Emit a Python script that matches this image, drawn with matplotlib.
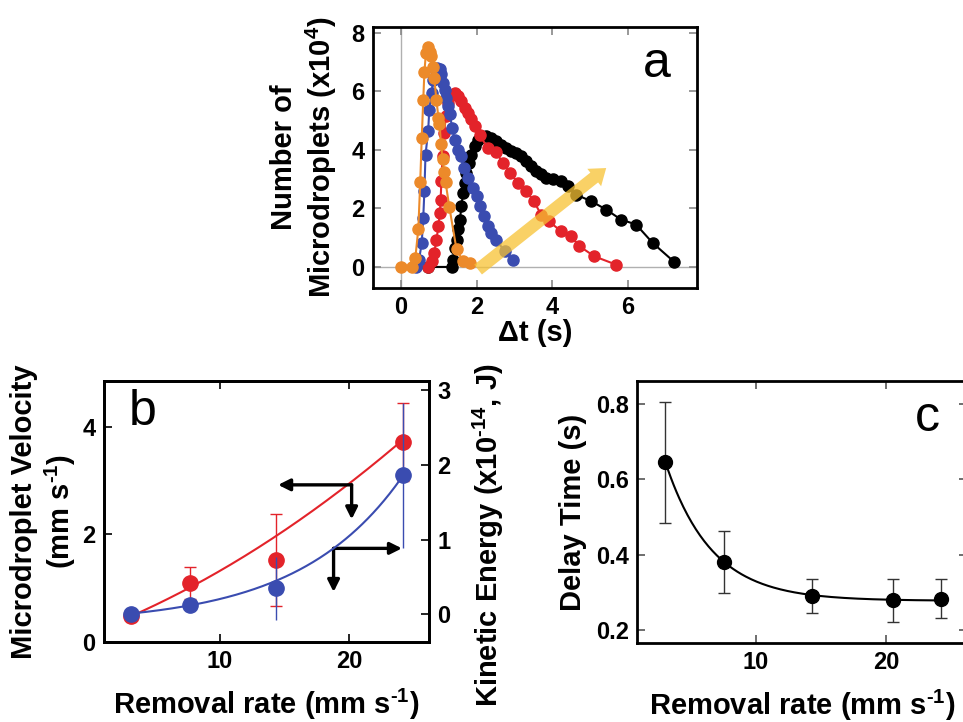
import numpy as np
import matplotlib
matplotlib.use("Agg")
import matplotlib.pyplot as plt

plt.rcParams['font.family'] = ['Liberation Sans', 'DejaVu Sans']
plt.rcParams['font.weight'] = 'bold'
plt.rcParams['mathtext.default'] = 'regular'

# ---------------- Panel a data ----------------
orange_t = [0, 0.28, 0.38, 0.46, 0.51, 0.55, 0.59, 0.62, 0.66, 0.72, 0.77, 0.80, 0.84, 0.88,
            0.94, 0.99, 1.02, 1.06, 1.10, 1.14, 1.18, 1.28, 1.47, 1.64, 1.82]
orange_n = [0, 0, 0.3, 1.3, 2.9, 4.4, 5.7, 6.65, 7.3, 7.5, 7.35, 7.2, 6.85, 6.45,
            5.7, 5.1, 4.9, 4.2, 3.7, 3.25, 2.9, 2.05, 0.6, 0.2, 0.15]
blue_t = [0.41, 0.48, 0.55, 0.59, 0.62, 0.65, 0.72, 0.75, 0.81, 0.85, 0.90, 0.96, 1.03, 1.07,
          1.12, 1.16, 1.20, 1.25, 1.29, 1.36, 1.42, 1.51, 1.58, 1.66, 1.78, 1.91, 2.00, 2.08,
          2.19, 2.30, 2.39, 2.52, 2.74, 2.96]
blue_n = [0, 0.25, 0.82, 1.68, 2.59, 3.84, 4.64, 5.38, 5.95, 6.4, 6.75, 6.8, 6.75, 6.58,
          6.29, 6.06, 5.78, 5.49, 5.21, 4.75, 4.35, 4.01, 3.78, 3.38, 3.04, 2.7, 2.42, 2.07,
          1.73, 1.39, 1.16, 0.93, 0.54, 0.25]
red_t = [0.72, 0.81, 0.88, 0.94, 0.99, 1.03, 1.05, 1.07, 1.10, 1.14, 1.19, 1.25, 1.34, 1.42,
         1.51, 1.60, 1.69, 1.78, 1.86, 1.95, 2.08, 2.29, 2.51, 2.70, 2.89, 3.10, 3.32, 3.51,
         3.71, 3.91, 4.24, 4.50, 4.72, 5.12, 5.69]
red_n = [0, 0.19, 0.48, 0.93, 1.39, 1.85, 2.3, 2.93, 3.78, 4.58, 5.15, 5.6, 5.89, 5.95,
         5.83, 5.66, 5.44, 5.26, 5.04, 4.81, 4.52, 4.07, 3.92, 3.56, 3.21, 2.87, 2.59, 2.25,
         1.79, 1.56, 1.22, 1.05, 0.71, 0.36, 0.08]
black_t = [0.72, 1.34, 1.38, 1.42, 1.47, 1.51, 1.56, 1.60, 1.64, 1.69, 1.73, 1.80, 1.86, 1.95,
           2.04, 2.13, 2.26, 2.39, 2.52, 2.66, 2.79, 2.92, 3.05, 3.18, 3.32, 3.45, 3.58, 3.71,
           3.84, 4.02, 4.24, 4.42, 4.63, 5.03, 5.43, 5.82, 6.22, 6.66, 7.23]
black_n = [0, 0, 0.25, 0.65, 0.93, 1.28, 1.62, 2.07, 2.53, 2.87, 3.21, 3.56, 3.84, 4.13,
           4.35, 4.47, 4.47, 4.41, 4.3, 4.18, 4.07, 3.95, 3.9, 3.78, 3.61, 3.44, 3.27, 3.16,
           3.04, 2.99, 2.93, 2.76, 2.47, 2.25, 1.96, 1.62, 1.45, 0.82, 0.17]
yellow_arrow = [(2.04, -0.09), (5.43, 3.38)]

# ---------------- Panel b data ----------------
rate_b = [3.1, 7.7, 14.3, 24.2]
velocity = [0.48, 1.1, 1.52, 3.72]
velocity_err = [0.03, 0.3, 0.85, 0.72]
energy = [0.01, 0.12, 0.35, 1.86]
energy_err = [0.02, 0.05, 0.42, 0.97]
vel_fit_coef = [0.00234, 0.0917, 0.173]        # quadratic fit
energy_fit = (0.0967, 0.125, -0.132)           # A*exp(k x) + c
arrow_left = [(20.2, 2.92), (14.5, 2.92), (20.2, 2.28)]   # corner, left end, down end
arrow_right = [(18.8, 1.74), (24.1, 1.74), (18.8, 0.93)]  # corner, right end, down end

# ---------------- Panel c data ----------------
rate_c = [3.08, 7.6, 14.3, 20.5, 24.2]
delay = [0.645, 0.38, 0.29, 0.28, 0.284]
delay_err = [0.16, 0.082, 0.045, 0.057, 0.052]
delay_fit = (0.278, 0.367, 0.283)               # c + A*exp(-k (x - x0))

ORANGE = '#ec8a2a'
BLUE = '#3a4cb0'
RED = '#e3232a'
TICK_FS = 17
LABEL_FS = 21
HY = '\u2010'  # hyphen for superscripts

fig = plt.figure(figsize=(9.63, 7.22), dpi=100)

def style(ax, tickcolor='k'):
    for s in ax.spines.values():
        s.set_linewidth(2.0)
    ax.tick_params(direction='in', length=6, width=1.2, color=tickcolor,
                   labelsize=TICK_FS, top=True, right=True, pad=6)
    for lab in ax.get_xticklabels() + ax.get_yticklabels():
        lab.set_fontweight('bold')

# ---------------- Panel a ----------------
axa = fig.add_axes([0.3873, 0.6011, 0.3364, 0.3615])
axa.axhline(0, color='#b0b0b0', lw=1.0, zorder=0)
axa.axvline(0, color='#b0b0b0', lw=1.0, zorder=0)
for t, n, c in [(black_t, black_n, 'k'), (red_t, red_n, RED),
                (blue_t, blue_n, BLUE), (orange_t, orange_n, ORANGE)]:
    axa.plot(t, n, '-o', color=c, ms=8, lw=1.5, mec=c)
(x0, y0), (x1, y1) = yellow_arrow
axa.annotate('', xy=(x1, y1), xytext=(x0, y0),
             arrowprops=dict(arrowstyle='simple,head_width=1.6,head_length=1.1,tail_width=0.9',
                             color='#f7c233', alpha=0.75, lw=0, shrinkA=0, shrinkB=0),
             zorder=5)
axa.set_xlim(-0.74, 7.83)
axa.set_ylim(-0.72, 8.2)
axa.set_xticks([0, 2, 4, 6])
axa.set_yticks([0, 2, 4, 6, 8])
style(axa, tickcolor='#888888')
axa.set_xlabel('Δt (s)', fontsize=LABEL_FS, fontweight='bold', labelpad=0)
axa.set_ylabel('Number of\nMicrodroplets (x10$^{4}$)', fontsize=LABEL_FS, fontweight='bold',
               labelpad=9, linespacing=1.2)
axa.text(0.92, 0.86, 'a', transform=axa.transAxes, fontsize=36, fontweight='normal',
         ha='right', va='center')

# ---------------- Panel b ----------------
axb = fig.add_axes([0.108, 0.1108, 0.3375, 0.3615])
xs = np.linspace(rate_b[0], rate_b[-1], 200)
axb.plot(xs, np.polyval(vel_fit_coef, xs), color=RED, lw=1.5)
axb.errorbar(rate_b, velocity, yerr=velocity_err, fmt='o', color=RED, ms=11,
             elinewidth=1.0, capsize=4, capthick=1.0)
axb.set_xlim(1.0, 26.2)
axb.set_ylim(0, 4.85)
axb.set_xticks([10, 20])
axb.set_yticks([0, 2, 4])
style(axb)
axb.tick_params(right=False)
for corner, end_h, end_v in [arrow_left, arrow_right]:
    for end in (end_h, end_v):
        axb.annotate('', xy=end, xytext=corner,
                     arrowprops=dict(arrowstyle='-|>,head_width=0.35,head_length=0.7',
                                     color='k', lw=2.4, shrinkA=0, shrinkB=0))
axb.set_xlabel('Removal rate (mm s$^{' + HY + '1}$)', fontsize=LABEL_FS, fontweight='bold',
               labelpad=10)
axb.set_ylabel('Microdroplet Velocity\n(mm s$^{' + HY + '1}$)', fontsize=LABEL_FS,
               fontweight='bold', labelpad=3, linespacing=1.2)
axb.text(0.075, 0.88, 'b', transform=axb.transAxes, fontsize=36, fontweight='normal',
         ha='left', va='center')

axb2 = axb.twinx()
A, k, c = energy_fit
axb2.plot(xs, A * np.exp(k * xs) + c, color=BLUE, lw=1.5)
axb2.errorbar(rate_b, energy, yerr=energy_err, fmt='o', color=BLUE, ms=11,
              elinewidth=1.0, capsize=0)
axb2.set_ylim(-0.37, 3.12)
axb2.set_yticks([0, 1, 2, 3])
style(axb2)
axb2.tick_params(left=False, top=False, right=True)
axb2.set_ylabel('Kinetic Energy (x10$^{' + HY + '14}$, J)', fontsize=LABEL_FS,
                fontweight='bold')
axb2.yaxis.set_label_coords(1.13, 0.41)

# ---------------- Panel c ----------------
axc = fig.add_axes([0.6615, 0.1094, 0.3427, 0.3629])
cc, Ac, kc = delay_fit
xc = np.linspace(rate_c[0], rate_c[-1], 200)
axc.plot(xc, cc + Ac * np.exp(-kc * (xc - rate_c[0])), color='k', lw=1.5)
axc.errorbar(rate_c, delay, yerr=delay_err, fmt='o', color='k', ms=10,
             elinewidth=1.0, capsize=4, capthick=1.0, ecolor='#333333')
axc.set_xlim(0.9, 26.2)
axc.set_ylim(0.166, 0.861)
axc.set_xticks([10, 20])
axc.set_yticks([0.2, 0.4, 0.6, 0.8])
style(axc, tickcolor='#555555')
axc.set_xlabel('Removal rate (mm s$^{' + HY + '1}$)', fontsize=LABEL_FS, fontweight='bold',
               labelpad=10)
axc.set_ylabel('Delay Time (s)', fontsize=LABEL_FS, fontweight='bold', labelpad=6)
axc.text(0.88, 0.86, 'c', transform=axc.transAxes, fontsize=36, fontweight='normal',
         ha='center', va='center')

fig.savefig('out.png', dpi=100)
